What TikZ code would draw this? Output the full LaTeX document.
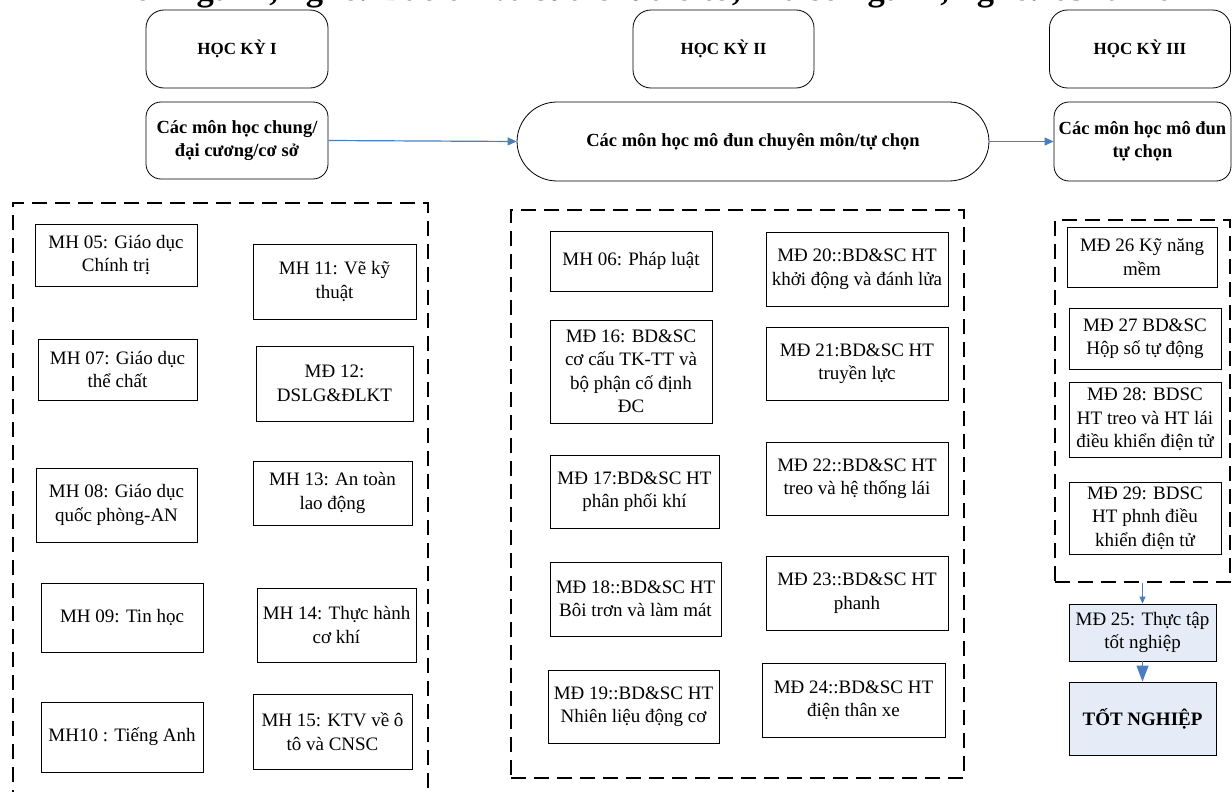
\documentclass[tikz,border=0pt]{standalone}
\usepackage{fontspec}
\setmainfont{Liberation Serif}
\usetikzlibrary{arrows.meta}
\definecolor{flowblue}{RGB}{74,126,193}
\definecolor{endfill}{RGB}{230,236,247}
\tikzset{
  wh/.style 2 args={minimum width=#1pt, minimum height=#2pt},
  hocky/.style={draw, rounded corners=18pt, line width=0.8pt, align=center, inner sep=2pt,
    font=\fontsize{17}{21}\selectfont\bfseries},
  nhom/.style={draw, rounded corners=15pt, line width=0.8pt, align=center, inner sep=2pt,
    font=\fontsize{18.5}{23.5}\selectfont\bfseries},
  mon/.style={draw, line width=0.8pt, align=center, inner sep=2pt,
    font=\fontsize{19}{23.5}\selectfont},
  khung/.style={draw, line width=2pt, dash pattern=on 15pt off 8pt, inner sep=0pt},
  flow/.style={draw=flowblue, line width=1.2pt, -{Triangle[length=9pt,width=8pt]}},
  flowsmall/.style={draw=flowblue, line width=1pt, -{Triangle[length=7pt,width=6pt]}},
  flowbig/.style={draw=flowblue, line width=1.2pt, -{Triangle[length=16pt,width=12pt]}}
}

\begin{document}
\begin{tikzpicture}[x=1pt,y=-1pt]
  \useasboundingbox (0,0) rectangle (1232,792);
  \clip (0,0) rectangle (1232,792);

  \node[anchor=base west, inner sep=0pt, font=\fontsize{34.5}{36}\selectfont\bfseries] (tieude) at (111,0.5)
    {Tên ngành, nghề: Bảo trì và sửa chữa ô tô; Mã số ngành, nghề: 6510216};

  \node[hocky, wh={182}{78}] (hk1) at (237,49) {HỌC KỲ I};
  \node[hocky, wh={181}{78}] (hk2) at (723.5,49) {HỌC KỲ II};
  \node[hocky, wh={181}{78}] (hk3) at (1140,49) {HỌC KỲ III};

  \node[nhom, wh={182}{77}] (chung) at (237,140.5) {Các môn học chung/\\đại cương/cơ sở};
  \node[nhom, wh={472}{79}, rounded corners=40pt] (chuyen) at (753,141.5) {Các môn học mô đun chuyên môn/tự chọn};
  \node[nhom, wh={177}{79}] (tuchon) at (1142.5,141.5) {Các môn học mô đun\\tự chọn};
  \draw[flow] (chung.east) -- (chuyen.west);
  \draw[flow] (chuyen.east) -- (tuchon.west);

  \node[khung, wh={415}{607}] (khung1) at (220.5,506.5) {};
  \node[khung, wh={453}{568}] (khung2) at (737.5,494) {};
  \node[khung, wh={175}{362}] (khung3) at (1142.5,401) {};

  \node[mon, wh={162}{62}] (mh05) at (116,255) {MH 05: Giáo dục\\Chính trị};
  \node[mon, wh={163}{75}] (mh11) at (334.5,281.5) {MH 11: Vẽ kỹ\\thuật};
  \node[mon, wh={159}{61}] (mh07) at (117.5,369.5) {MH 07: Giáo dục\\thể chất};
  \node[mon, wh={157}{75}] (md12) at (334.5,383.5) {MĐ 12:\\DSLG\&ĐLKT};
  \node[mon, wh={161}{74}] (mh08) at (116.5,505) {MH 08: Giáo dục\\quốc phòng-AN};
  \node[mon, wh={159}{64}] (mh13) at (332.5,493) {MH 13: An toàn\\lao động};
  \node[mon, wh={162}{69}] (mh09) at (122,617.5) {MH 09: Tin học};
  \node[mon, wh={159}{74}] (mh14) at (336.5,625) {MH 14: Thực hành\\cơ khí};
  \node[mon, wh={162}{70}] (mh10) at (122,737) {MH10 : Tiếng Anh};
  \node[mon, wh={159}{75}] (mh15) at (332.5,731.5) {MH 15: KTV về ô\\tô và CNSC};

  \node[mon, wh={162}{60}] (mh06) at (631,261) {MH 06: Pháp luật};
  \node[mon, wh={182}{74}] (md20) at (857,269) {MĐ 20::BD\&SC HT\\khởi động và đánh lửa};
  \node[mon, wh={162}{103}] (md16) at (631,371.5) {MĐ 16: BD\&SC\\cơ cấu TK-TT và\\bộ phận cố định\\ĐC};
  \node[mon, wh={182}{73}] (md21) at (857,363.5) {MĐ 21:BD\&SC HT\\truyền lực};
  \node[mon, wh={169}{73}] (md17) at (634.5,491.5) {MĐ 17:BD\&SC HT\\phân phối khí};
  \node[mon, wh={182}{73}] (md22) at (857,478.5) {MĐ 22::BD\&SC HT\\treo và hệ thống lái};
  \node[mon, wh={171}{74}] (md18) at (635.5,599) {MĐ 18::BD\&SC HT\\Bôi trơn và làm mát};
  \node[mon, wh={182}{74}] (md23) at (857,593) {MĐ 23::BD\&SC HT\\phanh};
  \node[mon, wh={171}{73}] (md19) at (633.5,706.5) {MĐ 19::BD\&SC HT\\Nhiên liệu động cơ};
  \node[mon, wh={183}{74}] (md24) at (853.5,700) {MĐ 24::BD\&SC HT\\điện thân xe};

  \node[mon, wh={150}{60}] (md26) at (1142,257) {MĐ 26 Kỹ năng\\mềm};
  \node[mon, wh={152}{61}] (md27) at (1145,338.5) {MĐ 27 BD\&SC\\Hộp số tự động};
  \node[mon, wh={152}{75}] (md28) at (1145,419.5) {MĐ 28: BDSC\\HT treo và HT lái\\điều khiển điện tử};
  \node[mon, wh={152}{72}] (md29) at (1145,518) {MĐ 29: BDSC\\HT phnh điều\\khiển điện tử};
  \node[mon, wh={147}{57}, fill=endfill] (md25) at (1142.5,632.5) {MĐ 25: Thực tập\\tốt nghiệp};
  \node[mon, wh={147}{73}, fill=endfill, font=\fontsize{19}{23.5}\selectfont\bfseries] (totnghiep) at (1142.5,718.5) {TỐT NGHIỆP};
  \draw[flowsmall] (khung3.south) -- (md25.north);
  \draw[flowbig] (md25.south) -- (totnghiep.north);
\end{tikzpicture}
\end{document}
